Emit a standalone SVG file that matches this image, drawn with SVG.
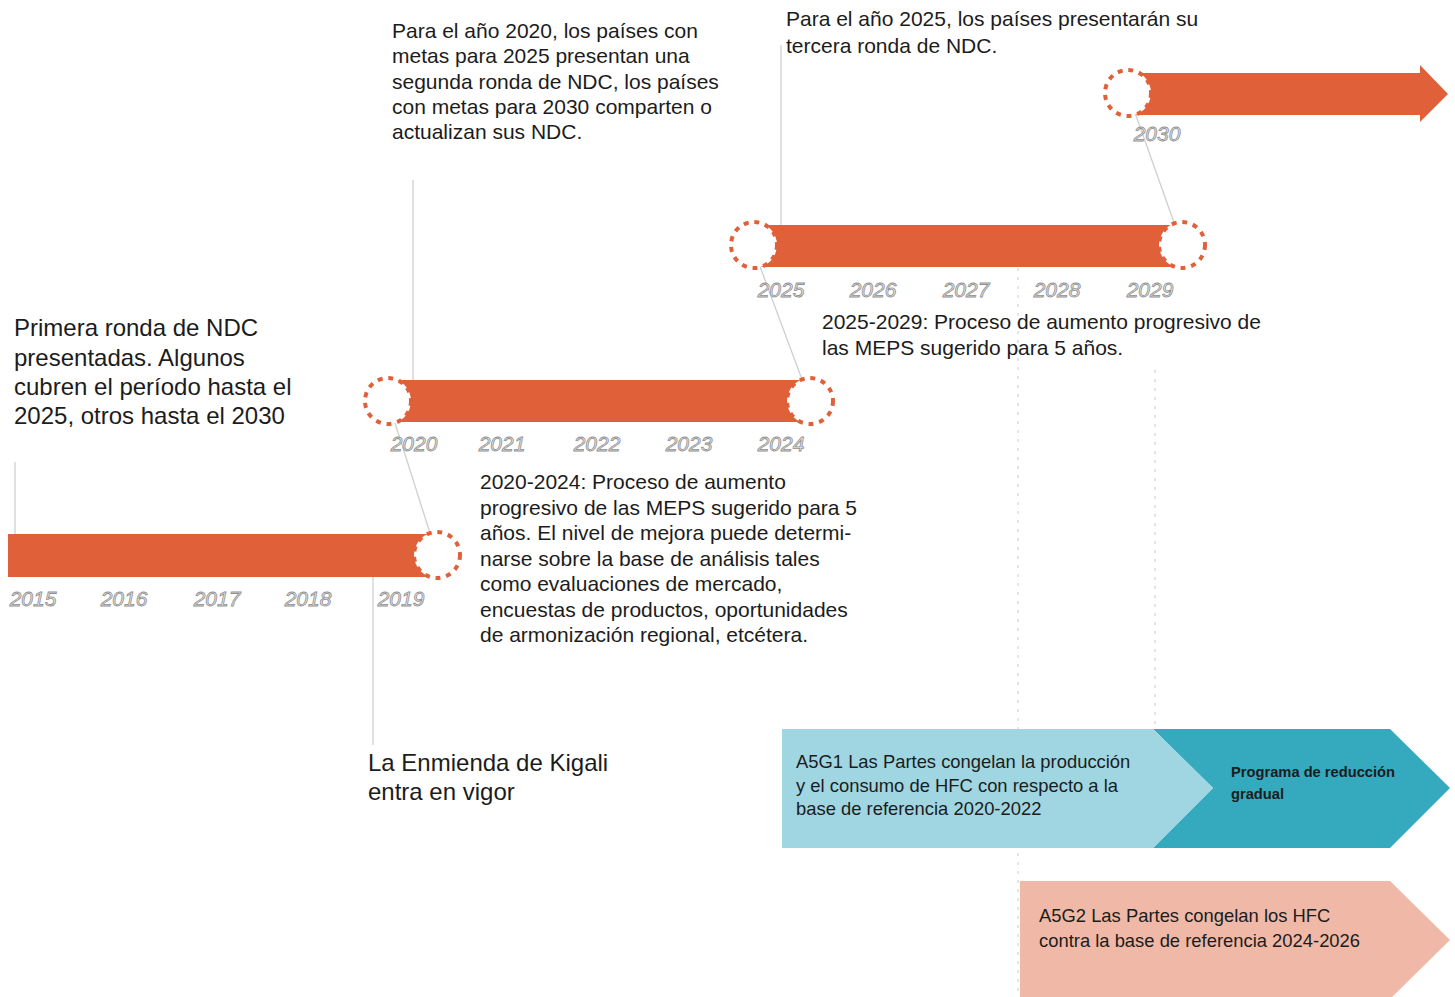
<svg xmlns="http://www.w3.org/2000/svg" width="1455" height="997" viewBox="0 0 1455 997">
<style>
.bar{fill:#e0603a}
.ring{fill:#fff;stroke:#e0603a;stroke-width:4;stroke-dasharray:5 5.8}
.yr{font-family:"Liberation Sans",Arial,sans-serif;font-size:21px;font-style:italic;fill:#e8e8e8;stroke:#8f8f8f;stroke-width:0.8;text-anchor:middle}
.t{font-family:"Liberation Sans",Arial,sans-serif;font-size:21px;fill:#1c1c1c}
.big{font-family:"Liberation Sans",Arial,sans-serif;font-size:24px;fill:#1c1c1c}
.ct{font-family:"Liberation Sans",Arial,sans-serif;font-size:18.4px;fill:#1c1c1c}
.cb{font-family:"Liberation Sans",Arial,sans-serif;font-size:14.7px;font-weight:bold;fill:#1c1c1c}
.ln{stroke:#cfcfcf;stroke-width:1.3;fill:none}
.dl{stroke:#d6d6d6;stroke-width:1.3;stroke-dasharray:3 6;fill:none}
</style>
<rect width="1455" height="997" fill="#fff"/>
<g id="connectors">
<line class="ln" x1="15" y1="462" x2="15" y2="534"/>
<line class="ln" x1="373" y1="535" x2="373" y2="745"/>
<line class="ln" x1="413" y1="180" x2="413" y2="380"/>
<line class="ln" x1="781" y1="45" x2="781" y2="225"/>
<line class="ln" x1="388" y1="401" x2="437" y2="555"/>
<line class="ln" x1="752" y1="245" x2="810" y2="401"/>
<line class="ln" x1="1128" y1="93" x2="1182" y2="245"/>
<line class="dl" x1="1018" y1="268" x2="1018" y2="997"/>
<line class="dl" x1="1155" y1="370" x2="1155" y2="729"/>
</g>
<g id="timeline-2015">
<rect class="bar" x="8" y="534" width="429" height="43"/>
<circle class="ring" cx="437" cy="555" r="23"/>
<text class="yr" x="33" y="606">2015</text>
<text class="yr" x="124" y="606">2016</text>
<text class="yr" x="217" y="606">2017</text>
<text class="yr" x="308" y="606">2018</text>
<text class="yr" x="401" y="606">2019</text>
</g>
<g id="timeline-2020">
<rect class="bar" x="388" y="380" width="422" height="42"/>
<circle class="ring" cx="388" cy="401" r="23"/>
<circle class="ring" cx="810" cy="401" r="23"/>
<text class="yr" x="414" y="451">2020</text>
<text class="yr" x="502" y="451">2021</text>
<text class="yr" x="597" y="451">2022</text>
<text class="yr" x="689" y="451">2023</text>
<text class="yr" x="781" y="451">2024</text>
</g>
<g id="timeline-2025">
<rect class="bar" x="754" y="225" width="428" height="42"/>
<circle class="ring" cx="754" cy="245" r="23"/>
<circle class="ring" cx="1182" cy="245" r="23"/>
<text class="yr" x="781" y="297">2025</text>
<text class="yr" x="873" y="297">2026</text>
<text class="yr" x="966" y="297">2027</text>
<text class="yr" x="1057" y="297">2028</text>
<text class="yr" x="1150" y="297">2029</text>
</g>
<g id="timeline-2030">
<polygon class="bar" points="1128,73 1420,73 1420,65 1448,94 1420,122 1420,115 1128,115"/>
<circle class="ring" cx="1128" cy="93" r="23"/>
<text class="yr" x="1157" y="141">2030</text>
</g>
<g id="note-primera">
<text class="big" x="14" y="336">Primera ronda de NDC</text>
<text class="big" x="14" y="366">presentadas. Algunos</text>
<text class="big" x="14" y="395">cubren el período hasta el</text>
<text class="big" x="14" y="424">2025, otros hasta el 2030</text>
</g>
<g id="note-2020">
<text class="t" x="392" y="38">Para el año 2020, los países con</text>
<text class="t" x="392" y="63">metas para 2025 presentan una</text>
<text class="t" x="392" y="89">segunda ronda de NDC, los países</text>
<text class="t" x="392" y="114">con metas para 2030 comparten o</text>
<text class="t" x="392" y="139">actualizan sus NDC.</text>
</g>
<g id="note-2025">
<text class="t" x="786" y="26">Para el año 2025, los países presentarán su</text>
<text class="t" x="786" y="53">tercera ronda de NDC.</text>
</g>
<g id="note-meps-2025">
<text class="t" x="822" y="329">2025-2029: Proceso de aumento progresivo de</text>
<text class="t" x="822" y="355">las MEPS sugerido para 5 años.</text>
</g>
<g id="note-meps-2020">
<text class="t" x="480" y="489">2020-2024: Proceso de aumento</text>
<text class="t" x="480" y="515">progresivo de las MEPS sugerido para 5</text>
<text class="t" x="480" y="540">años. El nivel de mejora puede determi-</text>
<text class="t" x="480" y="566">narse sobre la base de análisis tales</text>
<text class="t" x="480" y="591">como evaluaciones de mercado,</text>
<text class="t" x="480" y="617">encuestas de productos, oportunidades</text>
<text class="t" x="480" y="642">de armonización regional, etcétera.</text>
</g>
<g id="note-kigali">
<text class="big" x="368" y="771">La Enmienda de Kigali</text>
<text class="big" x="368" y="800">entra en vigor</text>
</g>
<g id="a5g1">
<polygon fill="#35a9be" points="1153,729 1390,729 1450,788 1390,848 1153,848 1213,788"/>
<polygon fill="#9fd6e1" points="782,729 1153,729 1213,788 1153,848 782,848"/>
<text class="ct" x="796" y="768">A5G1 Las Partes congelan la producción</text>
<text class="ct" x="796" y="792">y el consumo de HFC con respecto a la</text>
<text class="ct" x="796" y="815">base de referencia 2020-2022</text>
<text class="cb" x="1231" y="777">Programa de reducción</text>
<text class="cb" x="1231" y="799">gradual</text>
</g>
<g id="a5g2">
<polygon fill="#f0b8a6" points="1020,881 1390,881 1450,940 1390,999 1020,999"/>
<text class="ct" x="1039" y="922">A5G2 Las Partes congelan los HFC</text>
<text class="ct" x="1039" y="947">contra la base de referencia 2024-2026</text>
</g>
</svg>
